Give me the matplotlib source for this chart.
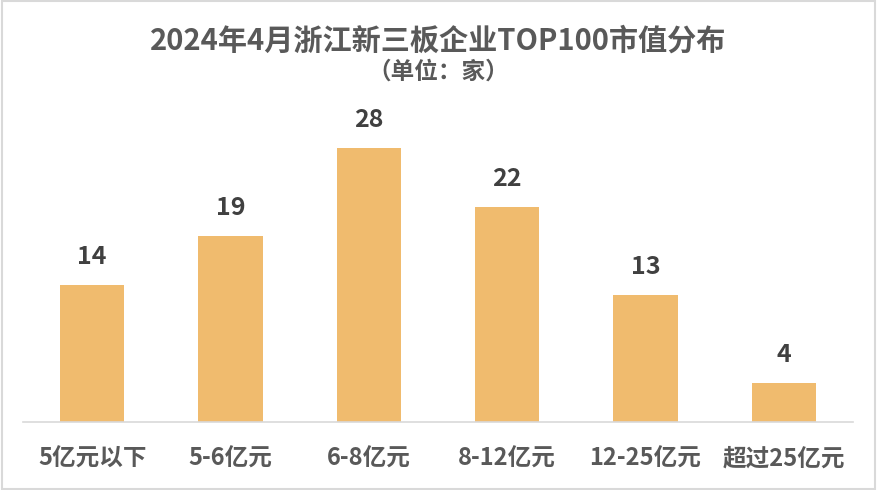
import matplotlib
matplotlib.use('Agg')
import matplotlib.pyplot as plt
from matplotlib.patches import Rectangle

plt.rcParams['font.family'] = ['Noto Sans CJK SC', 'DejaVu Sans']

# data
categories = ['5亿元以下', '5-6亿元', '6-8亿元', '8-12亿元', '12-25亿元', '超过25亿元']
counts = [14, 19, 28, 22, 13, 4]

bar_color = '#F0BB6E'
text_color = '#595959'

fig = plt.figure(figsize=(8.77, 4.9), dpi=100)
ax = fig.add_axes([0.0262, 0.1388, 0.9464, 0.5994])

x = range(len(categories))
bars = ax.bar(x, counts, width=0.465, color=bar_color, zorder=2)

for xi, v in zip(x, counts):
    ax.text(xi, v + 1.6, str(v), ha='center', va='bottom', fontsize=18,
            fontweight='bold', color='#404040')

ax.set_xlim(-0.5, len(categories) - 0.5)
ax.set_ylim(0, 30)
ax.set_xticks(list(x))
ax.set_xticklabels(categories, fontsize=17, fontweight='bold', color=text_color)
ax.tick_params(axis='x', length=0, pad=18)
ax.set_yticks([])
for side in ['top', 'right', 'left']:
    ax.spines[side].set_visible(False)
ax.spines['bottom'].set_color('#D9D9D9')
ax.spines['bottom'].set_linewidth(1.2)

fig.text(0.5, 0.918, '2024年4月浙江新三板企业TOP100市值分布', ha='center', va='center',
         fontsize=21, fontweight='bold', color=text_color)
fig.text(0.5, 0.853, '（单位：家）', ha='center', va='center',
         fontsize=17, fontweight='bold', color=text_color)

# light border round the figure
fig.patches.append(Rectangle((0.002, 0.003), 0.996, 0.994, transform=fig.transFigure,
                             fill=False, edgecolor='#D9D9D9', linewidth=1.5))

fig.savefig('out.png', dpi=100)
